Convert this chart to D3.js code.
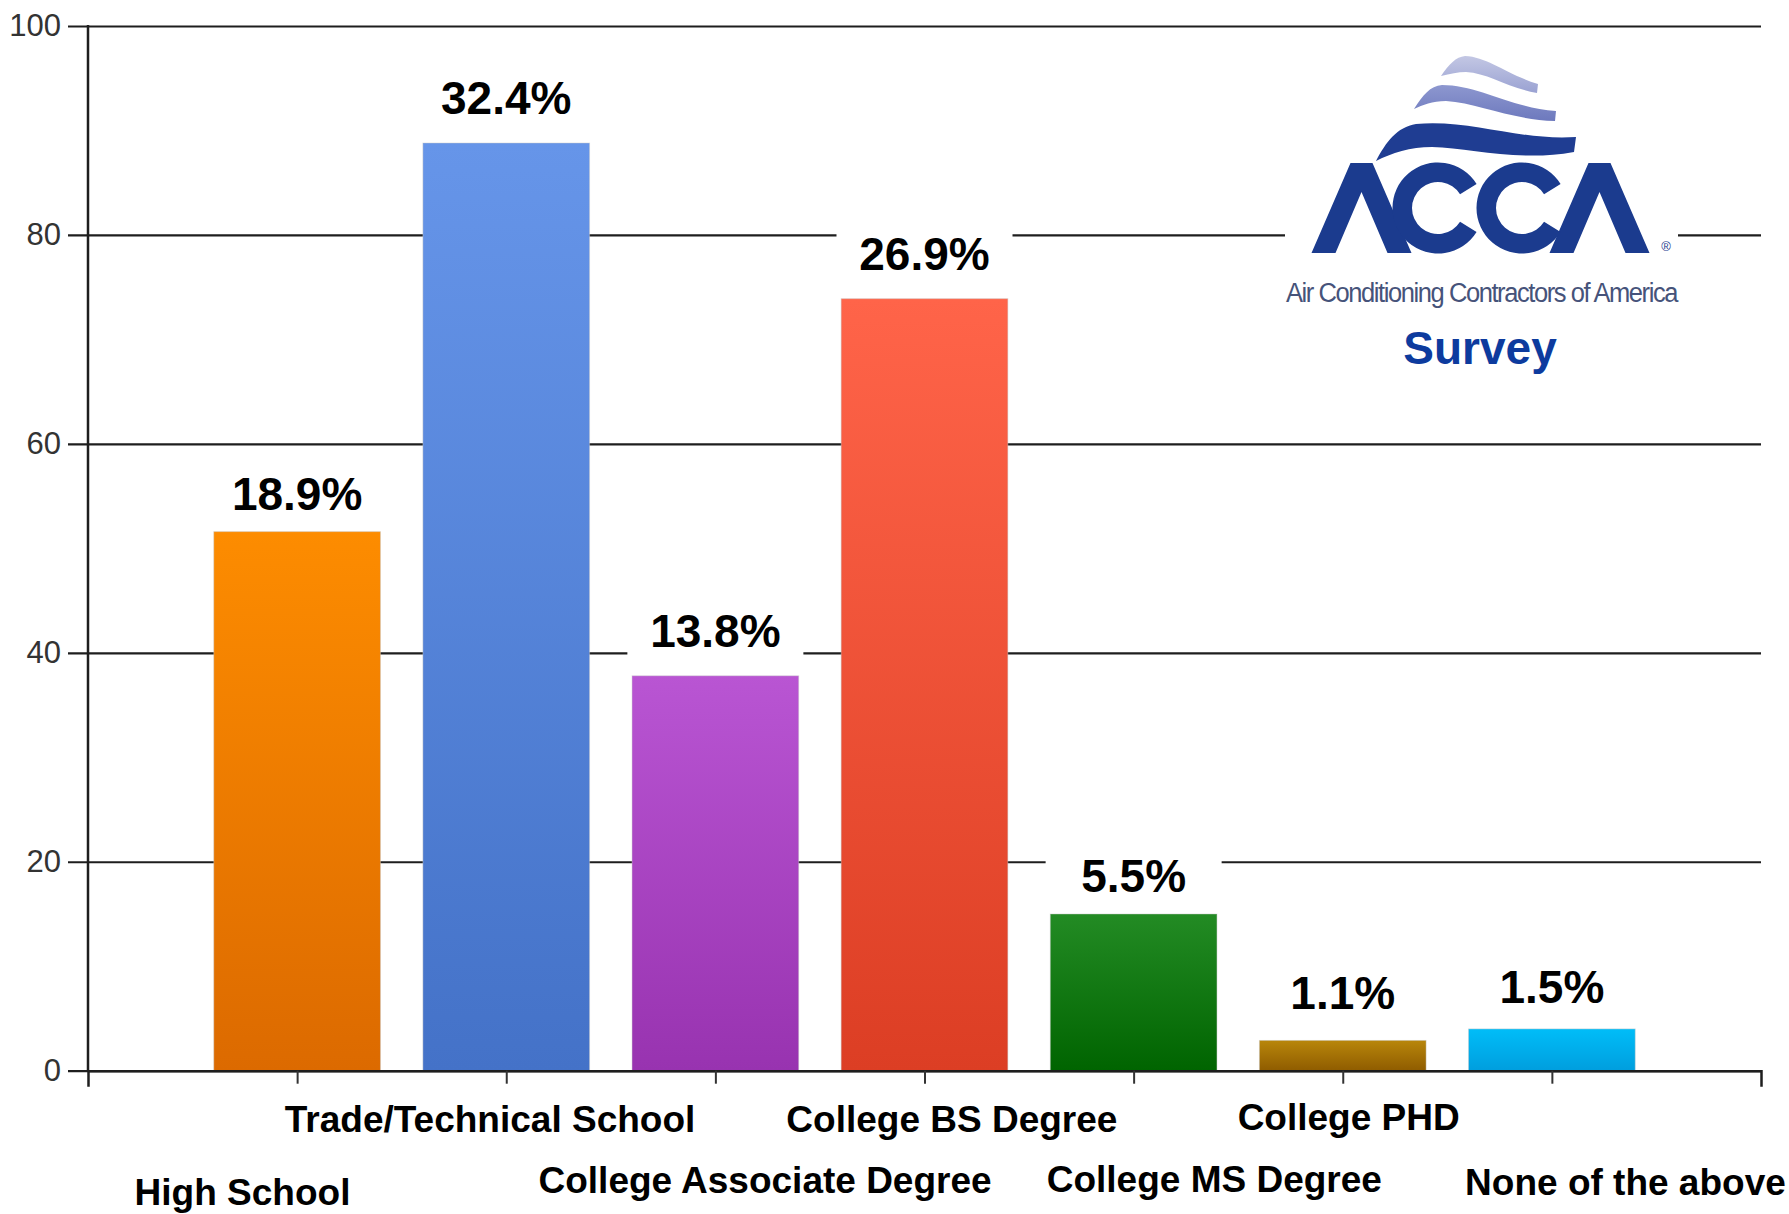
<!DOCTYPE html>
<html><head><meta charset="utf-8">
<script src="https://cdn.jsdelivr.net/npm/d3@7"></script>
<style>html,body{margin:0;padding:0;background:#fff;} svg{display:block;}</style>
</head><body>
<svg id="chart" width="1789" height="1214"></svg>
<script>
// ---------- data ----------
const categories = ["High School","Trade/Technical School","College Associate Degree","College BS Degree","College MS Degree","College PHD","None of the above"];
const counts = [51.6, 88.8, 37.8, 73.9, 15.0, 2.9, 4.0];
const pctLabels = ["18.9%","32.4%","13.8%","26.9%","5.5%","1.1%","1.5%"];
const yTickValues = [0, 20, 40, 60, 80, 100];
const topColors = ["#fd8c00","#6695e9","#b955d3","#ff6449","#238b24","#b8860b","#00bdf8"];
const bottomColors = ["#dc6a00","#4472c8","#9833b0","#dc3e24","#006400","#8f5c00","#009ede"];

// ---------- layout ----------
const W = 1789, H = 1214;
const x0 = 88, x1 = 1761, yTop = 26, yZero = 1070.7;
const labelLift = [22, 29, 29, 29, 22, 31, 26];
const catDx = [-54.6, -16.2, 49.7, 27.4, 80.7, 5.9, 73.6];
const catDy = [134.3, 61, 122.6, 61, 121, 59.3, 124.3];
const FONT = "'Liberation Sans', Arial, Helvetica, sans-serif";

const svg = d3.select("#chart");
const x = d3.scalePoint().domain(categories).range([x0, x1]).padding(1);
const y = d3.scaleLinear().domain([0, 100]).range([yZero, yTop]);
const barW = x.step() * 0.797;

const defs = svg.append("defs");
categories.forEach((c, i) => {
  const g = defs.append("linearGradient").attr("id", "g" + i)
    .attr("x1", 0).attr("y1", 0).attr("x2", 0).attr("y2", 1);
  g.append("stop").attr("offset", 0).attr("stop-color", topColors[i]);
  g.append("stop").attr("offset", 1).attr("stop-color", bottomColors[i]);
});

// gridlines + y labels
const yAxis = d3.axisLeft(y).tickValues(yTickValues).tickSize(-(x1 - 68)).tickPadding(7);
const gy = svg.append("g").attr("transform", "translate(68,0)").call(yAxis);
gy.select(".domain").remove();
gy.selectAll(".tick line").attr("stroke", "#1e1e1e").attr("stroke-width", 2.2);
gy.selectAll(".tick text").attr("font-family", FONT).attr("font-size", 31).attr("fill", "#333");

// y axis line
svg.append("line").attr("x1", x0).attr("x2", x0).attr("y1", y(100) - 1).attr("y2", yZero)
  .attr("stroke", "#1e1e1e").attr("stroke-width", 2.5);

// ---------- ACCA logo ----------
const logo = svg.append("g");
logo.append("rect").attr("x", 1285).attr("y", 40).attr("width", 393).attr("height", 272).attr("fill", "#fff");
const lg1 = defs.append("linearGradient").attr("id", "wv1").attr("x1",0).attr("y1",0).attr("x2",0).attr("y2",1);
lg1.append("stop").attr("offset",0).attr("stop-color","#c3c7e4");
lg1.append("stop").attr("offset",1).attr("stop-color","#9aa2d2");
const lg2 = defs.append("linearGradient").attr("id", "wv2").attr("x1",0).attr("y1",0).attr("x2",0).attr("y2",1);
lg2.append("stop").attr("offset",0).attr("stop-color","#8d97cf");
lg2.append("stop").attr("offset",1).attr("stop-color","#6d79bd");
logo.append("path").attr("fill", "url(#wv1)")
  .attr("d", "M1441,76 C1449,64 1456,57 1465,56 C1488,57 1506,74 1538,84 L1537,93 C1508,88 1488,73 1466,72 C1458,72 1450,74 1441,76 Z");
logo.append("path").attr("fill", "url(#wv2)")
  .attr("d", "M1414,109 C1423,95 1430,86 1442,85 C1478,85 1512,108 1556,111 L1555,121 C1512,120 1478,103 1446,101 C1432,101 1423,105 1414,109 Z");
logo.append("path").attr("fill", "#1f3d92")
  .attr("d", "M1376,161 C1386,142 1397,127 1416,124 C1470,119 1520,141 1576,137 L1574,152 C1520,162 1470,148 1432,147 C1410,147 1392,153 1376,161 Z");
const navy = "#1b3b8e";
const aPath = (cx) => `M${cx-50},253 L${cx-11},163 L${cx+11},163 L${cx+50},253 L${cx+26},253 L${cx},192 L${cx-26},253 Z`;
logo.append("path").attr("fill", navy).attr("d", aPath(1361.5));
logo.append("path").attr("fill", navy).attr("d", aPath(1599.5));
const cArc = d3.arc().innerRadius(26).outerRadius(45.5)
  .startAngle(122 * Math.PI / 180).endAngle(418 * Math.PI / 180);
[1438, 1522].forEach(cx => {
  logo.append("path").attr("fill", navy).attr("transform", `translate(${cx},208)`).attr("d", cArc());
});
logo.append("text").attr("x", 1666).attr("y", 251).attr("text-anchor", "middle")
  .attr("font-family", FONT).attr("font-size", 13).attr("fill", navy).text("®");
logo.append("text").attr("x", 1286).attr("y", 302)
  .attr("font-family", "'Liberation Sans Narrow', 'Liberation Sans', Arial, sans-serif")
  .attr("font-size", 27).attr("fill", "#46537a").attr("letter-spacing", -1.5)
  .attr("textLength", 391).attr("lengthAdjust", "spacingAndGlyphs")
  .text("Air Conditioning Contractors of America");
logo.append("text").attr("x", 1480).attr("y", 364).attr("text-anchor", "middle")
  .attr("font-family", FONT).attr("font-weight", "bold").attr("font-size", 46)
  .attr("fill", "#0d3b9e").text("Survey");

// ---------- bars ----------
const bars = svg.append("g");
bars.selectAll("rect").data(categories).join("rect")
  .attr("x", d => x(d) - barW / 2)
  .attr("y", (d, i) => y(counts[i]))
  .attr("width", barW)
  .attr("height", (d, i) => yZero - y(counts[i]))
  .attr("fill", (d, i) => `url(#g${i})`)
  .attr("stroke", "#c8c8c8").attr("stroke-opacity", 0.45).attr("stroke-width", 1);

// label backgrounds
svg.append("g").selectAll("rect").data(categories).join("rect")
  .attr("x", d => x(d) - 88)
  .attr("width", 176)
  .attr("y", (d, i) => y(counts[i]) - labelLift[i] - 42)
  .attr("height", (d, i) => labelLift[i] + 41)
  .attr("fill", "#fff");

// value labels
svg.append("g").selectAll("text").data(categories).join("text")
  .attr("x", d => x(d))
  .attr("y", (d, i) => y(counts[i]) - labelLift[i])
  .attr("text-anchor", "middle")
  .attr("font-family", FONT).attr("font-weight", "bold").attr("font-size", 46)
  .attr("fill", "#000")
  .text((d, i) => pctLabels[i]);

// x axis
const xAxis = d3.axisBottom(x).tickSizeInner(13).tickSizeOuter(16).tickFormat("");
const gx = svg.append("g").attr("transform", `translate(0,${yZero})`).call(xAxis);
gx.select(".domain").attr("stroke", "#1e1e1e").attr("stroke-width", 2.5);
gx.selectAll(".tick line").attr("stroke", "#333").attr("stroke-width", 2);

// category labels
svg.append("g").selectAll("text").data(categories).join("text")
  .attr("x", (d, i) => x(d) + catDx[i])
  .attr("y", (d, i) => yZero + catDy[i])
  .attr("text-anchor", "middle")
  .attr("font-family", FONT).attr("font-weight", "bold").attr("font-size", 37)
  .attr("fill", "#000")
  .text(d => d);
</script>
</body></html>
